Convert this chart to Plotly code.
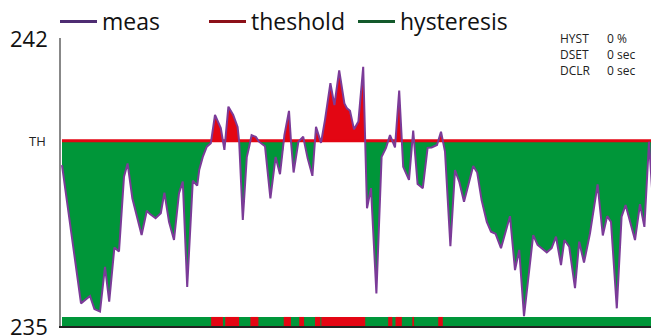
import plotly.graph_objects as go

# samples (time index) and measured voltage
t = [0, 4.75, 7, 8.1, 9.5, 10.75, 11.8, 13.1, 14.25, 15.5, 16.4, 17.6, 19.9, 21.2, 22,
     23.4, 24.7, 25.6, 26.75, 28, 29.25, 30.2, 31.3, 32.7, 33.8, 34.3, 35.2, 36.2, 37.2,
     38.25, 39.7, 40.6, 41.6, 42.8, 43.9, 44.3, 45.2, 46.2, 46.8, 47.4, 48.5, 49.25,
     50.75, 52.1, 53.4, 54.5, 55.6, 56.75, 57.25, 57.9, 59.1, 60.3, 61.4, 62.6, 63.5,
     64.75, 65.75, 67.1, 68.1, 69.3, 70.6, 71.25, 72, 73, 74.1, 75.3, 76.25, 77.25, 78.6,
     79.9, 81, 82, 83.25, 84.3, 85.3, 86.75, 87.8, 88.9, 90.2, 91.4, 92.4, 93.75, 94.75,
     95.75, 97.1, 98.25, 99.3, 100.5, 102.8, 103.8, 104.9, 106.2, 107.25, 108.4, 109.75,
     112, 113.25, 114.3, 115.5, 117.8, 118.9, 121.2, 122.4, 123.5, 124.75, 125.6, 126.8,
     128.25, 129.3, 130.5, 132, 133.9, 135.2, 136.3, 137.25, 138.7, 139.9, 140.9, 143.25,
     144.5, 145.6, 146.75, 147.8, 149.1]
meas = [238.91, 235.55, 235.73, 235.41, 235.35, 236.44, 235.59, 236.91, 236.81, 238.63,
        238.95, 238.10, 237.21, 237.80, 237.72, 237.62, 237.74, 238.24, 237.53, 237.09,
        238.23, 238.51, 235.95, 238.53, 238.41, 238.79, 239.11, 239.36, 239.44, 240.13,
        239.81, 239.28, 240.33, 240.13, 239.84, 239.47, 237.58, 239.11, 239.36, 239.64,
        239.59, 239.48, 239.37, 238.10, 239.11, 238.69, 239.64, 240.23, 239.48, 238.73,
        239.48, 239.60, 239.08, 238.65, 239.84, 239.45, 240.01, 240.90, 240.37, 241.21,
        240.41, 240.29, 240.23, 239.78, 239.97, 241.30, 237.86, 238.35, 235.79, 239.11,
        239.33, 239.64, 239.34, 240.72, 238.87, 238.55, 239.75, 238.45, 238.35, 239.33,
        239.34, 239.40, 239.72, 239.24, 236.94, 238.79, 238.51, 238.02, 238.89, 238.73,
        238.06, 237.53, 237.29, 237.24, 236.89, 237.67, 236.36, 236.85, 235.24, 237.21,
        236.97, 236.79, 236.89, 237.17, 236.48, 237.09, 236.93, 235.92, 237.05, 236.54,
        237.25, 238.44, 237.20, 237.67, 237.53, 235.43, 237.66, 237.94, 237.09, 237.96,
        237.41, 239.48, 237.90, 238.51]
TH = 239.5
y_ticks = [235, 242]
info_labels = ["HYST", "DSET", "DCLR"]
info_values = ["0 %", "0 sec", "0 sec"]

GREEN = "#009639"
RED = "#e30613"
PURPLE = "#7b3b98"
FONT = "Open Sans"
BAR_H = 0.22

# insert the threshold crossings so the fills split cleanly
xs, ys = [t[0]], [meas[0]]
for i in range(1, len(t)):
    a, b = meas[i - 1] - TH, meas[i] - TH
    if a * b < 0:
        xc = t[i - 1] + (t[i] - t[i - 1]) * a / (a - b)
        xs.append(xc)
        ys.append(TH)
    xs.append(t[i])
    ys.append(meas[i])
below = [min(v, TH) for v in ys]
above = [max(v, TH) for v in ys]
th_line = [TH] * len(xs)

fig = go.Figure()
fig.add_trace(go.Scatter(x=xs, y=th_line, mode="lines", line=dict(width=0),
                         showlegend=False, hoverinfo="skip"))
fig.add_trace(go.Scatter(x=xs, y=below, mode="lines", line=dict(width=0),
                         fill="tonexty", fillcolor=GREEN, showlegend=False))
fig.add_trace(go.Scatter(x=xs, y=th_line, mode="lines", line=dict(width=0),
                         showlegend=False, hoverinfo="skip"))
fig.add_trace(go.Scatter(x=xs, y=above, mode="lines", line=dict(width=0),
                         fill="tonexty", fillcolor=RED, showlegend=False))

# status strip at the bottom
bar_end = t[-2]
fig.add_trace(go.Scatter(x=[t[0], bar_end, bar_end, t[0], t[0]],
                         y=[235, 235, 235 + BAR_H, 235 + BAR_H, 235],
                         fill="toself", fillcolor=GREEN, mode="lines",
                         line=dict(width=0), showlegend=False, hoverinfo="skip"))
start = None
prev = xs[0]
for x, v in zip(xs, ys):
    if v > TH and start is None:
        start = prev
    if v <= TH and start is not None:
        fig.add_trace(go.Scatter(x=[start, x, x, start, start],
                                 y=[235, 235, 235 + BAR_H, 235 + BAR_H, 235],
                                 fill="toself", fillcolor=RED, mode="lines",
                                 line=dict(width=0), showlegend=False,
                                 hoverinfo="skip"))
        start = None
    prev = x

fig.add_trace(go.Scatter(x=[t[0], t[-1]], y=[TH, TH], mode="lines",
                         line=dict(color=RED, width=3), showlegend=False))
fig.add_trace(go.Scatter(x=t, y=meas, mode="lines",
                         line=dict(color=PURPLE, width=2), showlegend=False))

# legend entries (last one is a blank spacer so "hysteresis" is not clipped)
for name, col in [("meas", "#4e2c72"), ("theshold", "#8c1018"), ("hysteresis", "#13592b")]:
    fig.add_trace(go.Scatter(x=[None], y=[None], mode="lines", name=name,
                             line=dict(color=col, width=3)))
fig.add_trace(go.Scatter(x=[None], y=[None], mode="lines", name=" ",
                         line=dict(color="rgba(0,0,0,0)", width=0)))

annotations = []
for v in y_ticks:
    annotations.append(dict(x=0, xref="paper", y=v, yref="y", text=str(v),
                            xanchor="right", yanchor="middle", xshift=-11,
                            showarrow=False, font=dict(size=22, color="#111111")))
annotations.append(dict(x=0, xref="paper", y=TH, yref="y", text="TH",
                        xanchor="right", yanchor="middle", xshift=-13,
                        showarrow=False, font=dict(size=13, color="#222222")))
for i, (lab, val) in enumerate(zip(info_labels, info_values)):
    yy = 1 - (i * 16) / 288
    annotations.append(dict(x=(558 - 61) / 598, xref="paper", y=yy, yref="paper",
                            text=lab, xanchor="left", yanchor="middle", showarrow=False,
                            font=dict(size=12, color="#222222")))
    annotations.append(dict(x=(605 - 61) / 598, xref="paper", y=yy, yref="paper",
                            text=val, xanchor="left", yanchor="middle", showarrow=False,
                            font=dict(size=12, color="#222222")))

# the page body adds an 8px offset, so the figure is sized to fit the window
fig.update_layout(
    width=651, height=327,
    margin=dict(l=53, r=0, t=30, b=9, autoexpand=False),
    plot_bgcolor="white", paper_bgcolor="white",
    font=dict(family=FONT, color="#111"),
    xaxis=dict(range=[-0.25, 149.25], showgrid=False, zeroline=False,
               showticklabels=False, ticks="", showline=True,
               linecolor="#222", linewidth=2),
    yaxis=dict(range=[235, 242], showgrid=False, zeroline=False,
               showticklabels=False, ticks="", showline=True,
               linecolor="#888", linewidth=2),
    showlegend=True,
    legend=dict(orientation="h", xref="container", yref="paper",
                x=47 / 651, y=1 + 38 / 288, xanchor="left", yanchor="top",
                traceorder="normal",
                font=dict(size=23, family=FONT, color="#111"),
                itemwidth=37, entrywidth=97, entrywidthmode="pixels",
                bgcolor="rgba(0,0,0,0)", borderwidth=0),
    annotations=annotations,
)

fig.write_html("out.html")
